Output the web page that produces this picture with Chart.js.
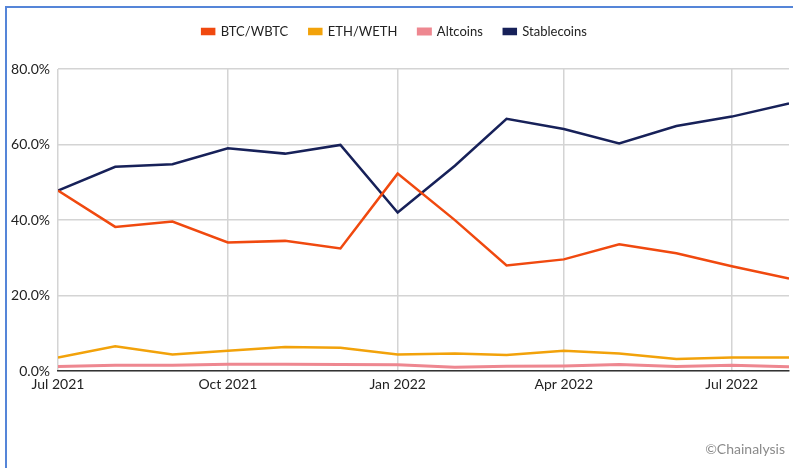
<!DOCTYPE html>
<html>
<head>
<meta charset="utf-8">
<script src="https://cdn.jsdelivr.net/npm/chart.js@4.4.0/dist/chart.umd.min.js"></script>
<style>
  html, body { margin: 0; padding: 0; background: #fff; }
  #wrap { position: relative; width: 793px; height: 468px; overflow: hidden; }
  #frame { position: absolute; left: 5px; top: 6px; width: 800px; height: 480px;
           border-top: 2px solid #5585d8; border-left: 2px solid #5585d8; box-sizing: border-box; }
  #credit { position: absolute; right: 8px; top: 440px; font-family: Lato, "Open Sans", sans-serif;
            font-size: 14px; color: #8a8a8a; }
  canvas { position: absolute; left: 0; top: 0; }
</style>
</head>
<body>
<div id="wrap">
  <div id="frame"></div>
  <canvas id="c" width="793" height="468"></canvas>
  <div id="credit">©Chainalysis</div>
</div>
<script>
// Monthly dates
const dates = ["2021-07-01","2021-08-01","2021-09-01","2021-10-01","2021-11-01","2021-12-01",
               "2022-01-01","2022-02-01","2022-03-01","2022-04-01","2022-05-01","2022-06-01",
               "2022-07-01","2022-08-01"];
const btc         = [47.8, 38.2, 39.6, 34.1, 34.5, 32.5, 52.3, 40.0, 28.0, 29.6, 33.6, 31.2, 27.8, 24.5];
const eth         = [3.6, 6.6, 4.4, 5.4, 6.4, 6.2, 4.4, 4.7, 4.3, 5.4, 4.7, 3.2, 3.6, 3.6];
const altcoins    = [1.25, 1.6, 1.6, 1.85, 1.85, 1.8, 1.7, 1.05, 1.3, 1.4, 1.8, 1.25, 1.6, 1.15];
const stablecoins = [47.8, 54.1, 54.8, 59.0, 57.6, 59.9, 42.0, 54.4, 66.8, 64.1, 60.3, 64.9, 67.4, 70.9];
const tickDates   = ["2021-07-01","2021-10-01","2022-01-01","2022-04-01","2022-07-01"];
const tickLabels  = ["Jul 2021","Oct 2021","Jan 2022","Apr 2022","Jul 2022"];
const yTicks      = [0, 20, 40, 60, 80];

const DAY = 86400000;
const origin = Date.parse(dates[0]);
const dayOf = d => Math.round((Date.parse(d) - origin) / DAY);
const xs = dates.map(dayOf);
const tickXs = tickDates.map(dayOf);
const pts = arr => arr.map((v, i) => ({ x: xs[i], y: v }));

const FONT = 'Lato, "Open Sans", sans-serif';

const legendHeight = {
  id: 'legendHeight',
  beforeInit(chart) {
    const orig = chart.legend.fit;
    chart.legend.fit = function () {
      orig.call(this);
      this.height = 65;
    };
  }
};

new Chart(document.getElementById('c'), {
  type: 'line',
  data: {
    datasets: [
      { label: 'BTC/WBTC', data: pts(btc), borderColor: '#f0490f', backgroundColor: '#f0490f', borderWidth: 2.5 },
      { label: 'ETH/WETH', data: pts(eth), borderColor: '#f2a20a', backgroundColor: '#f2a20a', borderWidth: 2.5 },
      { label: 'Altcoins', data: pts(altcoins), borderColor: '#ee8790', backgroundColor: '#ee8790', borderWidth: 3 },
      { label: 'Stablecoins', data: pts(stablecoins), borderColor: '#172159', backgroundColor: '#172159', borderWidth: 2.5 }
    ]
  },
  options: {
    responsive: false,
    animation: false,
    layout: { padding: { left: 0, right: 4, top: 4, bottom: 70 } },
    elements: { point: { radius: 0 }, line: { tension: 0 } },
    plugins: {
      tooltip: { enabled: false },
      legend: {
        position: 'top',
        labels: {
          boxWidth: 12, boxHeight: 5, padding: 21,
          color: '#222', font: { family: FONT, size: 13 }
        }
      }
    },
    scales: {
      x: {
        type: 'linear',
        min: xs[0], max: xs[xs.length - 1],
        afterBuildTicks(scale) { scale.ticks = tickXs.map(v => ({ value: v })); },
        ticks: {
          autoSkip: false, maxRotation: 0, padding: 5,
          color: '#222', font: { family: FONT, size: 14 },
          callback: (v) => { const i = tickXs.indexOf(v); return i >= 0 ? tickLabels[i] : ''; }
        },
        grid: { color: '#d4d4d4', lineWidth: 1.5, drawTicks: false },
        border: { color: '#333', width: 1.5 }
      },
      y: {
        min: 0, max: 80,
        afterBuildTicks(scale) { scale.ticks = yTicks.map(v => ({ value: v })); },
        afterFit(scale) { scale.width = 58; },
        ticks: {
          padding: 8, color: '#222', font: { family: FONT, size: 14 },
          callback: v => v.toFixed(1) + '%'
        },
        grid: { color: '#d4d4d4', lineWidth: 1.5, drawTicks: false },
        border: { display: false }
      }
    }
  },
  plugins: [legendHeight]
});
</script>
</body>
</html>
